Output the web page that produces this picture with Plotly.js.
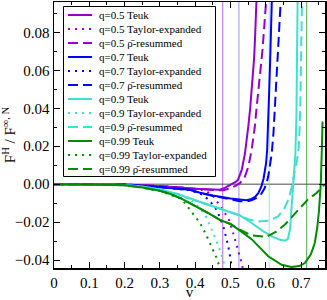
<!DOCTYPE html>
<html>
<head>
<meta charset="utf-8">
<script src="https://cdn.plot.ly/plotly-3.0.1.min.js"></script>
<style>html,body{margin:0;padding:0;background:#fff;}#chart{width:327px;height:300px;}</style>
</head>
<body>
<div id="chart"></div>
<script>
// ---- data ----
const v05T = [0, 0.1, 0.2, 0.25, 0.3, 0.35, 0.4, 0.45, 0.47, 0.484, 0.495, 0.505, 0.515, 0.522, 0.532, 0.541, 0.547, 0.551, 0.556, 0.560, 0.564, 0.567, 0.570, 0.573, 0.576];
const y05T = [0, 0, -0.0002, -0.0006, -0.001, -0.0017, -0.0024, -0.003, -0.0029, -0.002, -0.001, 0.0002, 0.0012, 0.0025, 0.0075, 0.016, 0.024, 0.031, 0.040, 0.048, 0.058, 0.066, 0.078, 0.093, 0.108];
const v05X = [0, 0.1, 0.2, 0.3, 0.35, 0.4, 0.43, 0.45, 0.465, 0.48, 0.494, 0.505, 0.513, 0.524, 0.532, 0.538];
const y05X = [0, 0, -0.0002, -0.001, -0.0017, -0.0025, -0.0035, -0.006, -0.01, -0.014, -0.0179, -0.024, -0.029, -0.036, -0.0416, -0.047];
const v05R = [0, 0.1, 0.2, 0.3, 0.35, 0.4, 0.45, 0.48, 0.50, 0.515, 0.527, 0.541, 0.551, 0.560, 0.569, 0.574, 0.579, 0.585, 0.591, 0.597, 0.602, 0.605];
const y05R = [0, 0, -0.0002, -0.001, -0.0017, -0.0025, -0.0031, -0.0032, -0.0022, -0.0008, 0.0005, 0.004, 0.0093, 0.018, 0.030, 0.040, 0.048, 0.060, 0.071, 0.084, 0.096, 0.106];

const v07T = [0, 0.1, 0.2, 0.25, 0.3, 0.35, 0.385, 0.414, 0.45, 0.5, 0.527, 0.545, 0.56, 0.571, 0.579, 0.588, 0.594, 0.598, 0.601, 0.604, 0.607, 0.610, 0.613, 0.616, 0.619];
const y07T = [0, 0, -0.0003, -0.0008, -0.0016, -0.0024, -0.003, -0.0045, -0.006, -0.0076, -0.0082, -0.0085, -0.0078, -0.0065, -0.0048, -0.001, 0.003, 0.0065, 0.011, 0.018, 0.031, 0.050, 0.068, 0.088, 0.108];
const v07X = [0, 0.1, 0.2, 0.3, 0.35, 0.385, 0.42, 0.44, 0.461, 0.48, 0.494, 0.503, 0.507];
const y07X = [0, 0, -0.0003, -0.0016, -0.0024, -0.0032, -0.0055, -0.0085, -0.0135, -0.0223, -0.0328, -0.043, -0.047];
const v07R = [0, 0.1, 0.2, 0.3, 0.35, 0.385, 0.414, 0.45, 0.5, 0.527, 0.545, 0.56, 0.575, 0.588, 0.596, 0.602, 0.607, 0.612, 0.617, 0.622, 0.629, 0.636, 0.642, 0.645];
const y07R = [0, 0, -0.0003, -0.0016, -0.0024, -0.003, -0.0046, -0.0062, -0.008, -0.009, -0.0092, -0.0085, -0.0072, -0.005, -0.0025, 0.0003, 0.004, 0.009, 0.016, 0.027, 0.050, 0.070, 0.093, 0.105];

const v09T = [0, 0.1, 0.2, 0.25, 0.3, 0.35, 0.4, 0.45, 0.5, 0.527, 0.56, 0.59, 0.62, 0.64, 0.655, 0.663, 0.669, 0.673, 0.676, 0.680, 0.684, 0.687, 0.689, 0.691];
const y09T = [0, 0, -0.0005, -0.0013, -0.0028, -0.0052, -0.0085, -0.0118, -0.015, -0.0165, -0.0205, -0.0245, -0.0278, -0.0293, -0.0298, -0.0288, -0.0235, -0.015, -0.005, 0.005, 0.016, 0.035, 0.075, 0.11];
const v09X = [0, 0.1, 0.2, 0.3, 0.35, 0.38, 0.40, 0.428, 0.451, 0.47, 0.484, 0.489];
const y09X = [0, 0, -0.0005, -0.0028, -0.0052, -0.0075, -0.01, -0.016, -0.0258, -0.0346, -0.043, -0.047];
const v09R = [0, 0.1, 0.2, 0.25, 0.3, 0.35, 0.4, 0.45, 0.5, 0.527, 0.55, 0.579, 0.61, 0.635, 0.652, 0.664, 0.672, 0.678, 0.684, 0.689, 0.694, 0.698, 0.701, 0.704];
const y09R = [0, 0, -0.0005, -0.0013, -0.0028, -0.0052, -0.0085, -0.0118, -0.015, -0.0165, -0.0185, -0.0197, -0.0192, -0.017, -0.013, -0.0083, -0.003, 0.0023, 0.0075, 0.013, 0.020, 0.04, 0.075, 0.11];

const v99T = [0, 0.1, 0.2, 0.25, 0.3, 0.33, 0.36, 0.385, 0.414, 0.44, 0.47, 0.5, 0.527, 0.56, 0.607, 0.645, 0.673, 0.695, 0.711, 0.728, 0.739, 0.746, 0.751, 0.756, 0.759, 0.761];
const y99T = [0, 0, -0.0006, -0.0018, -0.0035, -0.0052, -0.0075, -0.0100, -0.0126, -0.0155, -0.0188, -0.021, -0.0245, -0.029, -0.038, -0.0425, -0.0437, -0.0432, -0.0416, -0.037, -0.031, -0.023, -0.014, 0, 0.018, 0.033];
const v99X = [0, 0.1, 0.2, 0.25, 0.3, 0.33, 0.357, 0.371, 0.395, 0.414, 0.432, 0.45, 0.461, 0.468, 0.473];
const y99X = [0, 0, -0.0006, -0.0018, -0.0036, -0.0055, -0.0075, -0.0100, -0.016, -0.0205, -0.027, -0.034, -0.039, -0.043, -0.047];
const v99R = [0, 0.1, 0.2, 0.25, 0.3, 0.33, 0.36, 0.385, 0.414, 0.44, 0.47, 0.5, 0.527, 0.56, 0.602, 0.63, 0.654, 0.68, 0.702, 0.72, 0.744, 0.768];
const y99R = [0, 0, -0.0006, -0.0018, -0.0035, -0.0052, -0.0075, -0.0100, -0.0126, -0.0155, -0.0188, -0.021, -0.024, -0.027, -0.0278, -0.025, -0.0214, -0.016, -0.0118, -0.008, -0.0047, 0];

const vertLines = [0.478, 0.524, 0.610, 0.716];
const legendLabels = [
  "q=0.5 Teuk", "q=0.5 Taylor-expanded", "q=0.5 \u03C1\u0304-resummed",
  "q=0.7 Teuk", "q=0.7 Taylor-expanded", "q=0.7 \u03C1\u0304-resummed",
  "q=0.9 Teuk", "q=0.9 Taylor-expanded", "q=0.9 \u03C1\u0304-resummed",
  "q=0.99 Teuk", "q=0.99 Taylor-expanded", "q=0.99 \u03C1\u0304-resummed"
];

// ---- styles ----
const colors = ["#9400d3", "#0000ff", "#40e0d0", "#008b00"];
const vertColors = ["rgba(148,0,211,0.5)", "rgba(0,0,255,0.35)", "rgba(64,224,208,0.5)", "rgba(0,139,0,0.6)"];
const dashes = ["solid", "2px,5px", "10px,5px"];
const series = [
  [[v05T, y05T], [v05X, y05X], [v05R, y05R]],
  [[v07T, y07T], [v07X, y07X], [v07R, y07R]],
  [[v09T, y09T], [v09X, y09X], [v09R, y09R]],
  [[v99T, y99T], [v99X, y99X], [v99R, y99R]]
];

const traces = [];
series.forEach((grp, gi) => {
  grp.forEach((s, si) => {
    traces.push({
      x: s[0], y: s[1], type: "scatter", mode: "lines",
      name: legendLabels[gi * 3 + si], showlegend: false,
      line: {color: colors[gi], width: 2, dash: dashes[si]},
      hoverinfo: "skip"
    });
  });
});

// plot area in pixels
const L = 54, T = 2, W = 271, H = 266;
const px = x => (x - L) / W;
const py = y => (T + H - y) / H;

const shapes = [];
shapes.push({type: "line", xref: "paper", yref: "y", x0: 0, x1: 1, y0: 0, y1: 0,
  line: {color: "#888888", width: 1.5}, layer: "below"});
vertLines.forEach((v, i) => {
  shapes.push({type: "line", xref: "x", yref: "paper", x0: v, x1: v, y0: 0, y1: 1,
    line: {color: vertColors[i], width: 1.2}, layer: "below"});
});
// legend box
shapes.push({type: "rect", xref: "paper", yref: "paper",
  x0: px(63.5), x1: px(215.5), y0: py(176.5), y1: py(6.5),
  line: {color: "#000", width: 1}, fillcolor: "#fff", layer: "above"});
const annotations = [];
legendLabels.forEach((lab, i) => {
  const yy = 15 + 14 * i;
  const gi = Math.floor(i / 3), si = i % 3;
  shapes.push({type: "line", xref: "paper", yref: "paper",
    x0: px(68), x1: px(92), y0: py(yy), y1: py(yy),
    line: {color: colors[gi], width: 2, dash: dashes[si]}, layer: "above"});
  annotations.push({xref: "paper", yref: "paper", x: px(97), y: py(yy),
    xanchor: "left", yanchor: "middle", showarrow: false, text: lab,
    font: {family: "Liberation Serif", size: 11, color: "#000"}});
});

const axisCommon = {
  showgrid: false, zeroline: false, showline: true, linecolor: "#000", linewidth: 1.5,
  mirror: "allticks", ticks: "inside", ticklen: 6, tickwidth: 1, tickcolor: "#000",
  tickfont: {family: "Liberation Serif", size: 15, color: "#000"}
};

const layout = {
  width: 327, height: 300,
  margin: {l: L, r: 327 - L - W, t: T, b: 300 - T - H},
  paper_bgcolor: "#fff", plot_bgcolor: "#fff",
  showlegend: false,
  font: {family: "Liberation Serif", color: "#000"},
  xaxis: Object.assign({}, axisCommon, {
    range: [0, 0.768], dtick: 0.1, tick0: 0, tickformat: ".1~f",
    minor: {dtick: 0.05, ticks: "inside", ticklen: 3, tickcolor: "#000", showgrid: false},
    title: {text: "v", font: {family: "Liberation Serif", size: 15, color: "#000"}, standoff: 2}
  }),
  yaxis: Object.assign({}, axisCommon, {
    range: [-0.0442, 0.096], dtick: 0.02, tick0: 0, tickformat: ".2f",
    minor: {dtick: 0.01, ticks: "inside", ticklen: 3, tickcolor: "#000", showgrid: false},
    title: {text: "F<sup>H</sup> / F<sup>\u221E, N</sup>", font: {family: "Liberation Serif", size: 15, color: "#000"}, standoff: 4}
  }),
  shapes: shapes,
  annotations: annotations
};

Plotly.newPlot("chart", traces, layout, {staticPlot: true, displayModeBar: false});
</script>
</body>
</html>
